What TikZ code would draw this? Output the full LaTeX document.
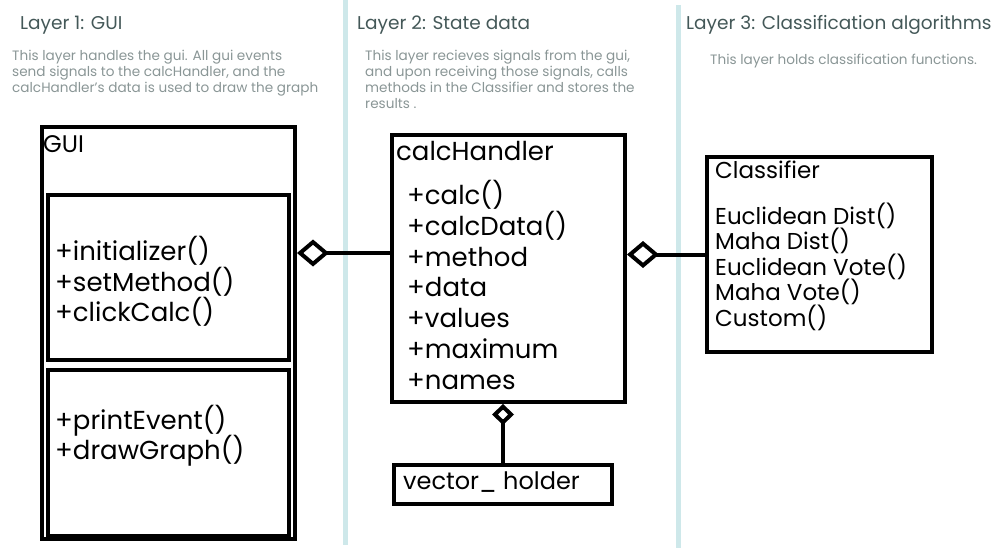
\documentclass[tikz,border=0pt]{standalone}
\usepackage{fontspec}
\setmainfont{Poppins}
\usetikzlibrary{arrows.meta,positioning,fit}
\definecolor{layerline}{RGB}{206,232,234}
\definecolor{titlegray}{RGB}{68,88,88}
\definecolor{descgray}{RGB}{138,150,150}
\setlength{\lineskiplimit}{-40pt}

\begin{document}
\begin{tikzpicture}[x=1pt,y=-1pt]
 	\tikzstyle{box}=[rectangle, draw=black, line width=4pt, inner sep=0pt, anchor=north west]
 	\tikzstyle{title}=[anchor=base west, inner sep=0pt, text=titlegray, font=\fontsize{18.5}{22}\selectfont]
 	\tikzstyle{desc}=[anchor=north west, inner sep=0pt, align=left, text=descgray, font=\fontsize{13.6}{16}\selectfont]
 	\tikzstyle{items}=[anchor=north west, inner sep=0pt, align=left, font=\fontsize{26}{30.8}\selectfont]
 	\tikzstyle{agg}=[{Diamond[open,length=32pt,width=27pt]}-, line width=4pt]
 	\useasboundingbox (0,0) rectangle (1001,548);
 	% layer borders
 	\draw[layerline, line width=5pt] (345,0) -- (345,545);
 	\draw[layerline, line width=5pt] (678,5) -- (678,548);
 	\node[title] (t1) at (20,30) {Layer 1: GUI};
 	\node[title] (t2) at (357,30) {Layer 2: State data};
 	\node[title] (t3) at (686,30) {Layer 3: Classification algorithms};
 	\node[desc] (d1) at (12,50) {This layer handles the gui. All gui events\\send signals to the calcHandler, and the\\calcHandler's data is used to draw the graph};
 	\node[desc] (d2) at (365,50) {This layer recieves signals from the gui,\\and upon receiving those signals, calls\\methods in the Classifier and stores the\\results .};
 	\node[desc] (d3) at (710,54) {This layer holds classification functions.};
 	% GUI
 	\node[box, minimum width=253pt, minimum height=412pt] (gui) at (40,125) {};
 	\node[items, font=\fontsize{24}{28}\selectfont] (guiname) at (43,135.5) {GUI};
 	\node[box, minimum width=241pt, minimum height=165pt] (guitop) at (46,193) {};
 	\node[box, minimum width=241pt, minimum height=166pt, below=6pt of guitop] (guibot) {};
 	\node[items, font=\fontsize{26}{30.5}\selectfont] (guim1) at (55,236.5) {+initializer()\\+setMethod()\\+clickCalc()};
 	\node[items, font=\fontsize{26}{30.5}\selectfont] (guim2) at (55,405) {+printEvent()\\+drawGraph()};
 	% calcHandler
 	\node[box, minimum width=233pt, minimum height=267pt] (calc) at (390,133) {};
 	\node[items] (calcname) at (396,141.5) {calcHandler};
 	\node[items] (calcm) at (407,180) {+calc()\\+calcData()\\+method\\+data\\+values\\+maximum\\+names};
 	% vector_holder
 	\node[box, minimum width=218pt, minimum height=39pt] (vh) at (392,463) {};
 	\node[items, anchor=west, font=\fontsize{24}{28}\selectfont] (vhname) at (403,482) {vector\_ holder};
 	% Classifier
 	\node[box, minimum width=225pt, minimum height=195pt] (cls) at (705,155) {};
 	\node[items, font=\fontsize{23}{26}\selectfont] (clsname) at (715,160.5) {Classifier};
 	\node[items, font=\fontsize{23}{25.6}\selectfont] (clsm) at (715,202.5) {Euclidean Dist()\\Maha Dist()\\Euclidean Vote()\\Maha Vote()\\Custom()};
 	% aggregations
 	\draw[agg] ([yshift=80pt]gui.east) -- ([yshift=80pt]gui.east -| calc.west);
 	\draw[agg] (calc.east |- cls.west) -- (cls.west);
 	\draw[agg, {Diamond[open,length=21pt,width=22pt]}-] (vh.north |- calc.south) -- (vh.north);
\end{tikzpicture}
\end{document}
